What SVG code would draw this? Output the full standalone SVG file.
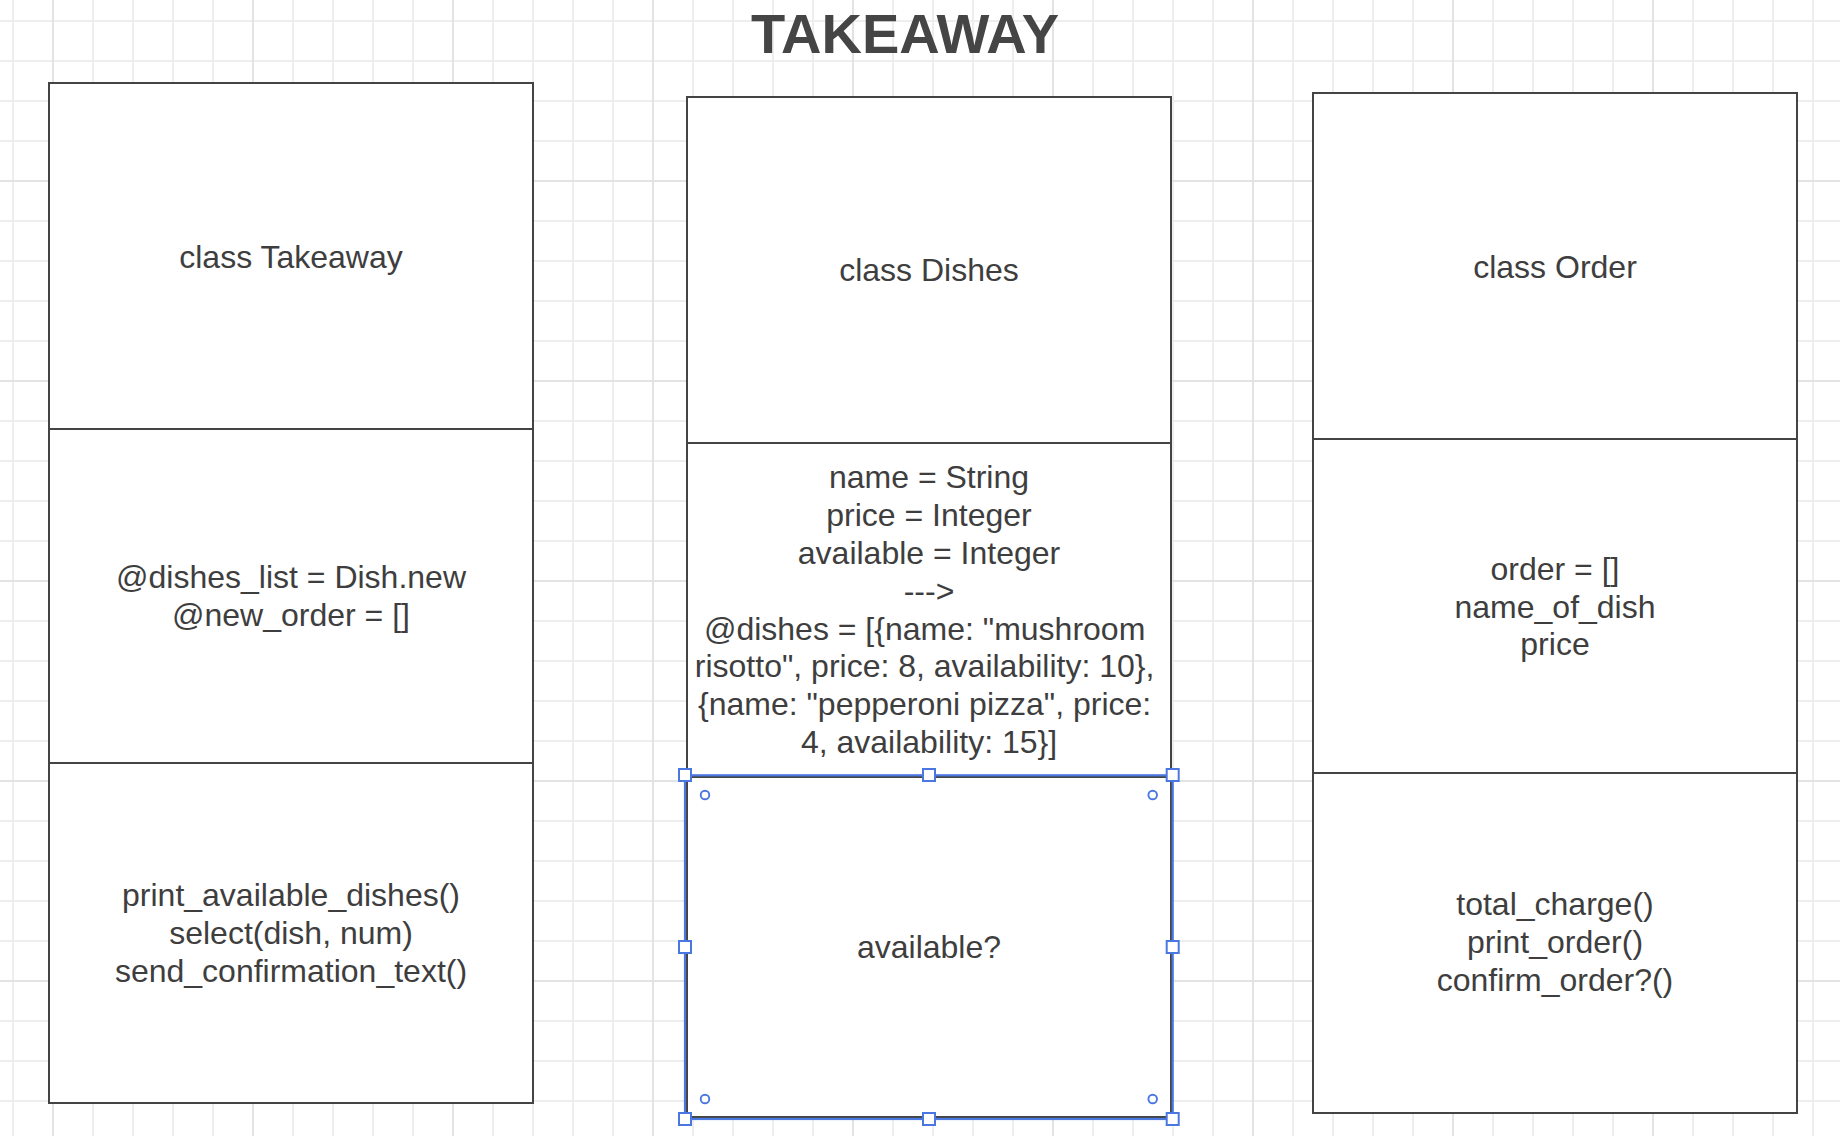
<svg xmlns="http://www.w3.org/2000/svg" width="1840" height="1136" viewBox="0 0 1840 1136">
  <defs>
    <pattern id="gridMinor" patternUnits="userSpaceOnUse" x="12" y="20" width="40" height="40">
      <path d="M1 0 V40 M0 1 H40" fill="none" stroke="#eeeeee" stroke-width="2"/>
    </pattern>
    <pattern id="gridMajor" patternUnits="userSpaceOnUse" x="52" y="180" width="200" height="200">
      <path d="M1 0 V200 M0 1 H200" fill="none" stroke="#e3e3e3" stroke-width="2"/>
    </pattern>
    <style>
      .box { fill: #ffffff; stroke: #444444; stroke-width: 2; }
      .div { stroke: #444444; stroke-width: 2; }
      .txt { font-family: "Liberation Sans", Arial, sans-serif; font-size: 32px; fill: #3e3e3e; text-anchor: middle; }
      .title { font-family: "Liberation Sans", Arial, sans-serif; font-size: 56px; font-weight: bold; fill: #454545; text-anchor: middle; }
      .sel { fill: none; stroke: #4a78e0; stroke-width: 2.2; }
      .handle { fill: #ffffff; stroke: #4a78e0; stroke-width: 2; }
      .dot { fill: none; stroke: #4a78e0; stroke-width: 1.9; }
    </style>
  </defs>

  <rect x="0" y="0" width="1840" height="1136" fill="#ffffff"/>
  <rect x="0" y="0" width="1840" height="1136" fill="url(#gridMinor)"/>
  <rect x="0" y="0" width="1840" height="1136" fill="url(#gridMajor)"/>

  <g id="title">
    <text class="title" x="905" y="52.5">TAKEAWAY</text>
  </g>

  <g id="class-takeaway">
    <rect class="box" x="49" y="83" width="484" height="1020"/>
    <line class="div" x1="49" y1="429" x2="533" y2="429"/>
    <line class="div" x1="49" y1="763" x2="533" y2="763"/>
    <text class="txt" x="291" y="267.5">class Takeaway</text>
    <text class="txt" x="291" y="588.3">@dishes_list = Dish.new</text>
    <text class="txt" x="291" y="626.4">@new_order = []</text>
    <text class="txt" x="291" y="906">print_available_dishes()</text>
    <text class="txt" x="291" y="943.8">select(dish, num)</text>
    <text class="txt" x="291" y="981.6">send_confirmation_text()</text>
  </g>

  <g id="class-dishes">
    <rect class="box" x="687" y="97" width="484" height="1020"/>
    <line class="div" x1="687" y1="443" x2="1171" y2="443"/>
    <line class="div" x1="687" y1="777" x2="1171" y2="777"/>
    <text class="txt" x="929" y="281">class Dishes</text>
    <text class="txt" x="929" y="488.3">name = String</text>
    <text class="txt" x="929" y="526.1">price = Integer</text>
    <text class="txt" x="929" y="563.9">available = Integer</text>
    <text class="txt" x="929" y="601.7">---&gt;</text>
    <text class="txt" x="924.6" y="639.5">@dishes = [{name: "mushroom</text>
    <text class="txt" x="924.6" y="677.3">risotto", price: 8, availability: 10},</text>
    <text class="txt" x="924.6" y="715.1">{name: "pepperoni pizza", price:</text>
    <text class="txt" x="929" y="752.9">4, availability: 15}]</text>
    <text class="txt" x="929" y="958.3">available?</text>
  </g>

  <g id="class-order">
    <rect class="box" x="1313" y="93" width="484" height="1020"/>
    <line class="div" x1="1313" y1="439" x2="1797" y2="439"/>
    <line class="div" x1="1313" y1="773" x2="1797" y2="773"/>
    <text class="txt" x="1555" y="278.3">class Order</text>
    <text class="txt" x="1555" y="580">order = []</text>
    <text class="txt" x="1555" y="617.6">name_of_dish</text>
    <text class="txt" x="1555" y="655.3">price</text>
    <text class="txt" x="1555" y="915">total_charge()</text>
    <text class="txt" x="1555" y="953">print_order()</text>
    <text class="txt" x="1555" y="991">confirm_order?()</text>
  </g>

  <g id="connectors"></g>

  <g id="selection">
    <rect class="sel" x="685" y="775.3" width="487.7" height="343.7"/>
    <rect class="handle" x="679" y="769" width="12" height="12"/>
    <rect class="handle" x="923" y="769" width="12" height="12"/>
    <rect class="handle" x="1166.7" y="769" width="12" height="12"/>
    <rect class="handle" x="679" y="941" width="12" height="12"/>
    <rect class="handle" x="1166.7" y="941" width="12" height="12"/>
    <rect class="handle" x="679" y="1113" width="12" height="12"/>
    <rect class="handle" x="923" y="1113" width="12" height="12"/>
    <rect class="handle" x="1166.7" y="1113" width="12" height="12"/>
    <circle class="dot" cx="705" cy="795" r="4.3"/>
    <circle class="dot" cx="1152.7" cy="795" r="4.3"/>
    <circle class="dot" cx="705" cy="1099" r="4.3"/>
    <circle class="dot" cx="1152.7" cy="1099" r="4.3"/>
  </g>
</svg>
